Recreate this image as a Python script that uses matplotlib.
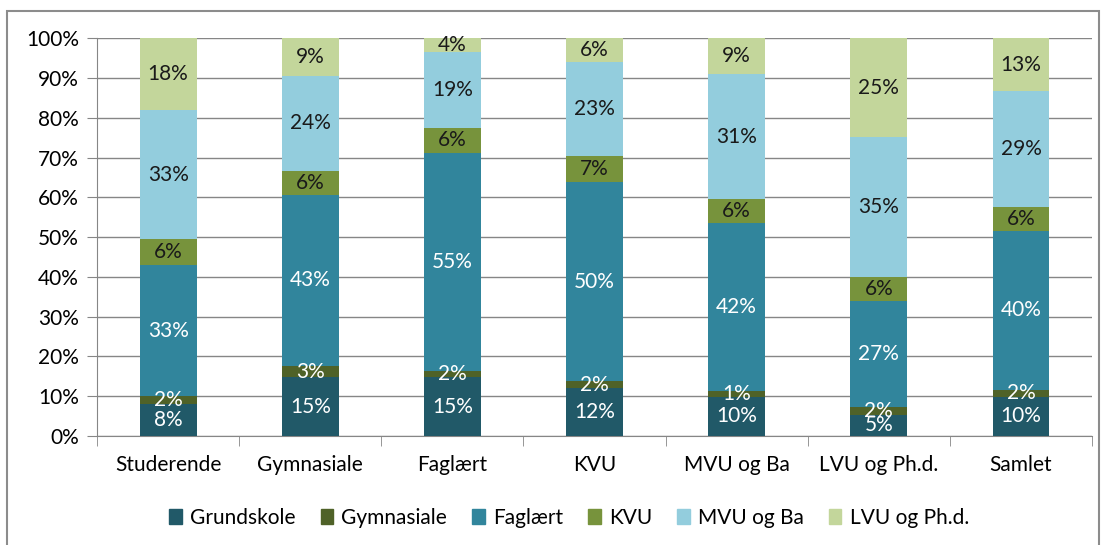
import matplotlib
matplotlib.use("Agg")
import matplotlib.pyplot as plt
import matplotlib.patches as mpatches
import numpy as np

plt.rcParams["font.family"] = ["Lato", "DejaVu Sans"]

categories = ["Studerende", "Gymnasiale", "Faglært", "KVU", "MVU og Ba", "LVU og Ph.d.", "Samlet"]
series_names = ["Grundskole", "Gymnasiale", "Faglært", "KVU", "MVU og Ba", "LVU og Ph.d."]

grundskole = [8.0, 14.8, 14.8, 12.0, 9.9, 5.3, 9.9]
gymnasiale = [2.0, 2.8, 1.6, 1.8, 1.4, 2.0, 1.7]
faglaert = [33.0, 43.0, 54.7, 50.0, 42.2, 26.6, 39.9]
kvu = [6.4, 6.0, 6.4, 6.7, 6.0, 6.0, 6.0]
mvu = [32.6, 24.0, 19.0, 23.4, 31.4, 35.2, 29.1]
lvu = [18.0, 9.4, 3.6, 6.1, 9.1, 24.9, 13.4]

colors = ["#215968", "#4F6228", "#31859C", "#77933C", "#93CDDD", "#C3D69B"]
text_colors = ["white", "white", "white", "#1a1a1a", "#1a1a1a", "#1a1a1a"]

data = [grundskole, gymnasiale, faglaert, kvu, mvu, lvu]
FS = 15

fig = plt.figure(figsize=(11.05, 5.45), dpi=100)
ax = fig.add_axes([0.0878, 0.2, 0.9005, 0.730])

x = np.arange(len(categories))
bottom = np.zeros(len(categories))
for name, vals, col, tcol in zip(series_names, data, colors, text_colors):
    vals = np.array(vals)
    ax.bar(x, vals, 0.4, bottom=bottom, color=col, label=name, zorder=3)
    for xi, b, v in zip(x, bottom, vals):
        ax.text(xi, b + v / 2, f"{v:.0f}%", ha="center", va="center",
                color=tcol, fontsize=FS, zorder=4)
    bottom += vals

ax.set_xlim(-0.5, len(categories) - 0.5)
ax.set_ylim(0, 100)
ax.set_yticks(np.arange(0, 101, 10))
ax.set_yticklabels([f"{v}%" for v in range(0, 101, 10)], fontsize=FS)
ax.set_xticks(x)
ax.set_xticklabels(categories, fontsize=FS)
ax.set_xticks(np.arange(-0.5, len(categories), 1), minor=True)
ax.tick_params(axis="x", which="major", length=0, pad=14)
ax.tick_params(axis="x", which="minor", length=7, color="#868686")
ax.tick_params(axis="y", length=7, color="#868686", pad=6)
ax.grid(axis="y", color="#868686", linewidth=1, zorder=0)
for s in ("top", "right"):
    ax.spines[s].set_visible(False)
for s in ("left", "bottom"):
    ax.spines[s].set_color("#868686")

handles = [mpatches.Patch(color=c, label=n) for c, n in zip(colors, series_names)]
fig.legend(handles=handles, loc="center", bbox_to_anchor=(0.515, 0.05), ncol=6,
           frameon=False, fontsize=FS, handlelength=0.6, handleheight=0.8,
           handletextpad=0.4, columnspacing=1.2)

fig.patches.append(mpatches.Rectangle((0.006, -0.01), 0.989, 0.99, transform=fig.transFigure,
                                      fill=False, edgecolor="#8c8c8c", linewidth=1.5))

fig.savefig("out.png", dpi=100)
